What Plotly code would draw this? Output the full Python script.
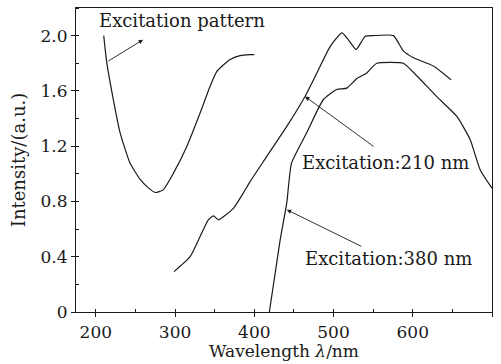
import plotly.graph_objects as go

# Excitation spectrum (monitored emission)
exc_wl = [210, 213.7, 222, 230.5, 243, 256, 266, 275, 285, 298, 315, 331.6, 344, 352.6, 369, 382, 394.7, 400]
exc_int = [2.0, 1.81, 1.54, 1.30, 1.08, 0.96, 0.90, 0.865, 0.884, 1.005, 1.20, 1.44, 1.63, 1.74, 1.826, 1.855, 1.862, 1.862]

# Emission spectrum under 210 nm excitation
em210_wl = [298.7, 319, 331.6, 342, 348.4, 354.7, 361, 373.6, 386, 394.7, 415.8, 441, 464, 479, 495.7,
            510.5, 518.8, 528.5, 540, 550, 575.6, 588, 601, 626, 648.5]
em210_int = [0.292, 0.40, 0.546, 0.667, 0.696, 0.667, 0.69, 0.75, 0.86, 0.944, 1.126, 1.343, 1.56, 1.73, 1.92,
             2.02, 1.97, 1.90, 1.995, 2.0, 2.0, 1.89, 1.84, 1.78, 1.68]

# Emission spectrum under 380 nm excitation
em380_wl = [419, 432.6, 441, 447, 466, 487, 504, 516.8, 529.5, 542, 554.6, 588, 605, 630, 655.7, 672.5, 685, 700]
em380_int = [0.0, 0.52, 0.79, 1.077, 1.295, 1.536, 1.61, 1.62, 1.69, 1.73, 1.80, 1.80, 1.71, 1.56, 1.415, 1.246, 1.03, 0.896]

x_ticks = [200, 300, 400, 500, 600, 700]
y_ticks = [0, 0.4, 0.8, 1.2, 1.6, 2.0]
y_tick_text = ["0", "0.4", "0.8", "1.2", "1.6", "2.0"]

FONT = "DejaVu Serif"
INK = "#1a1a1a"

fig = go.Figure()
for xs, ys in [(exc_wl, exc_int), (em210_wl, em210_int), (em380_wl, em380_int)]:
    fig.add_trace(go.Scatter(x=xs, y=ys, mode="lines",
                             line=dict(color=INK, width=1.2, shape="spline", smoothing=0.5),
                             showlegend=False, hoverinfo="skip"))

# Labels
labels = [
    ("Excitation pattern", 201.5, 2.11),
    ("Excitation:210 nm", 457.8, 1.08),
    ("Excitation:380 nm", 461.6, 0.39),
]
for text, x, y in labels:
    fig.add_annotation(x=x, y=y, text=text, showarrow=False, xanchor="left", yanchor="middle",
                       font=dict(family=FONT, size=18, color=INK))

# Leader arrows: (head_x, head_y, tail_x, tail_y)
arrows = [
    (259.6, 1.97, 214, 1.81),
    (464, 1.56, 552.5, 1.19),
    (441, 0.74, 537, 0.47),
]
for hx, hy, tx, ty in arrows:
    fig.add_annotation(x=hx, y=hy, ax=tx, ay=ty, xref="x", yref="y", axref="x", ayref="y",
                       text="", showarrow=True, arrowhead=2, arrowsize=1, arrowwidth=0.9,
                       arrowcolor=INK)

axis_common = dict(showgrid=False, zeroline=False, showline=True, linecolor=INK, linewidth=1.2,
                   mirror=True, ticks="outside", ticklen=4, tickcolor=INK,
                   tickfont=dict(family=FONT, size=17, color=INK))

fig.update_xaxes(range=[175, 700], tickvals=x_ticks,
                 minor=dict(dtick=50, ticks="inside", ticklen=3, tickcolor=INK),
                 title=dict(text="Wavelength <i>λ</i>/nm", font=dict(family=FONT, size=17, color=INK),
                            standoff=1),
                 **axis_common)
fig.update_yaxes(range=[0, 2.2], tickvals=y_ticks, ticktext=y_tick_text,
                 minor=dict(dtick=0.2, ticks="inside", ticklen=3, tickcolor=INK),
                 title=dict(text="Intensity/(a.u.)", font=dict(family=FONT, size=18, color=INK),
                            standoff=10),
                 **axis_common)

fig.update_layout(width=501, height=364, margin=dict(l=76, r=9, t=8, b=52),
                  paper_bgcolor="white", plot_bgcolor="white")

fig.write_html("out.html")
